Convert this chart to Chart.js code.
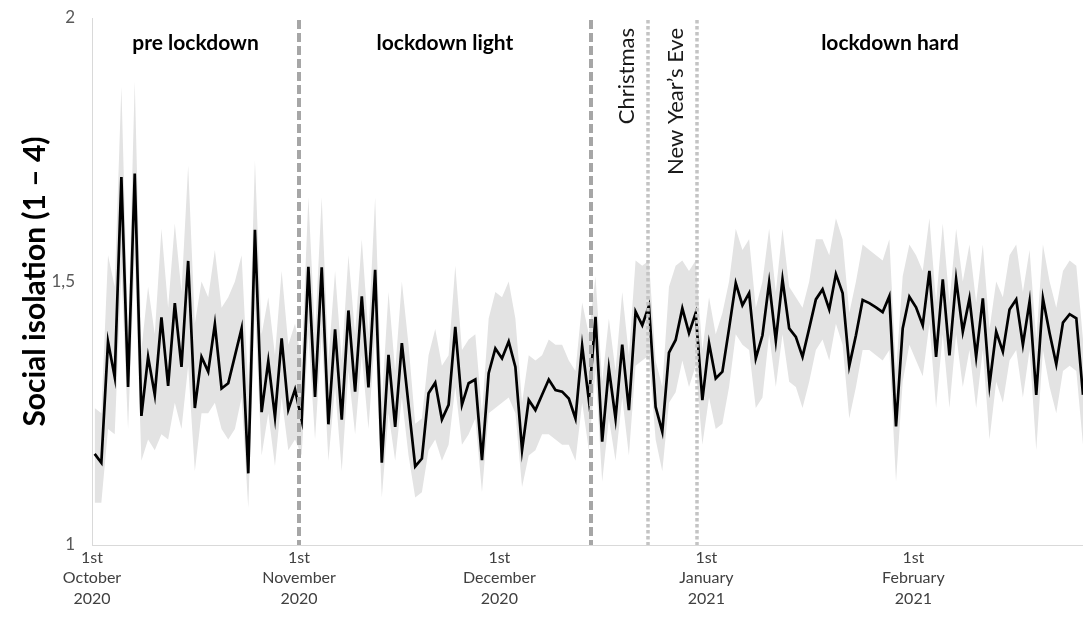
<!DOCTYPE html>
<html>
<head>
<meta charset="utf-8">
<script src="https://cdn.jsdelivr.net/npm/chart.js@4.4.0/dist/chart.umd.min.js"></script>
<style>
  html, body { margin: 0; padding: 0; background: #fff; }
  #wrap { width: 1083px; height: 617px; }
</style>
</head>
<body>
<div id="wrap"><canvas id="chart" width="1083" height="617"></canvas></div>
<script>
// daily mean of social isolation, 1 Oct 2020 .. 26 Feb 2021 (day index 0..148)
const isolation = [
  1.173, 1.156, 1.386, 1.319, 1.698, 1.300, 1.705, 1.245, 1.357, 1.285,
  1.432, 1.302, 1.459, 1.338, 1.539, 1.260, 1.357, 1.329, 1.419, 1.297,
  1.307, 1.359, 1.411, 1.136, 1.598, 1.252, 1.349, 1.243, 1.392, 1.257,
  1.295, 1.237, 1.528, 1.281, 1.527, 1.229, 1.409, 1.238, 1.445, 1.291,
  1.472, 1.299, 1.522, 1.156, 1.361, 1.224, 1.383, 1.266, 1.149, 1.164,
  1.288, 1.308, 1.238, 1.266, 1.414, 1.266, 1.307, 1.314, 1.161, 1.326,
  1.373, 1.354, 1.386, 1.338, 1.180, 1.275, 1.256, 1.285, 1.314, 1.294,
  1.291, 1.278, 1.240, 1.378, 1.275, 1.433, 1.196, 1.335, 1.240, 1.380,
  1.256, 1.443, 1.417, 1.454, 1.262, 1.215, 1.365, 1.389, 1.449, 1.402,
  1.440, 1.275, 1.383, 1.316, 1.329, 1.411, 1.497, 1.455, 1.478, 1.354,
  1.398, 1.498, 1.388, 1.504, 1.411, 1.395, 1.357, 1.411, 1.466, 1.485,
  1.447, 1.514, 1.478, 1.340, 1.398, 1.465, 1.459, 1.451, 1.442, 1.472,
  1.225, 1.411, 1.471, 1.451, 1.417, 1.520, 1.357, 1.504, 1.360, 1.504,
  1.405, 1.468, 1.357, 1.468, 1.304, 1.405, 1.367, 1.447, 1.466, 1.380,
  1.462, 1.285, 1.468, 1.402, 1.343, 1.422, 1.438, 1.430, 1.285
];

// upper / lower edge of the grey confidence band
const ciUpper = [
  1.26, 1.25, 1.55, 1.49, 1.87, 1.40, 1.88, 1.37, 1.49, 1.40,
  1.60, 1.45, 1.61, 1.48, 1.72, 1.42, 1.50, 1.47, 1.56, 1.45,
  1.47, 1.50, 1.55, 1.30, 1.73, 1.40, 1.47, 1.36, 1.52, 1.38,
  1.42, 1.35, 1.66, 1.40, 1.66, 1.35, 1.52, 1.35, 1.55, 1.40,
  1.58, 1.40, 1.66, 1.27, 1.48, 1.33, 1.50, 1.38, 1.23, 1.24,
  1.36, 1.41, 1.34, 1.36, 1.53, 1.37, 1.39, 1.40, 1.25, 1.43,
  1.48, 1.47, 1.50, 1.43, 1.27, 1.36, 1.35, 1.36, 1.39, 1.38,
  1.38, 1.35, 1.33, 1.46, 1.40, 1.51, 1.31, 1.43, 1.33, 1.48,
  1.36, 1.54, 1.53, 1.54, 1.35, 1.30, 1.49, 1.53, 1.54, 1.52,
  1.54, 1.37, 1.47, 1.40, 1.44, 1.50, 1.60, 1.56, 1.58, 1.45,
  1.50, 1.60, 1.48, 1.60, 1.49, 1.47, 1.45, 1.50, 1.58, 1.58,
  1.55, 1.62, 1.58, 1.44, 1.50, 1.57, 1.56, 1.55, 1.54, 1.58,
  1.33, 1.51, 1.57, 1.55, 1.52, 1.62, 1.46, 1.61, 1.46, 1.60,
  1.50, 1.57, 1.46, 1.57, 1.41, 1.50, 1.47, 1.55, 1.57, 1.48,
  1.56, 1.39, 1.57, 1.50, 1.45, 1.52, 1.54, 1.53, 1.39
];
const ciLower = [
  1.08, 1.08, 1.22, 1.21, 1.52, 1.22, 1.55, 1.16, 1.20, 1.18,
  1.21, 1.20, 1.27, 1.22, 1.34, 1.14, 1.25, 1.25, 1.27, 1.22,
  1.20, 1.22, 1.28, 1.07, 1.45, 1.17, 1.25, 1.15, 1.28, 1.18,
  1.20, 1.17, 1.40, 1.20, 1.40, 1.16, 1.30, 1.14, 1.33, 1.21,
  1.36, 1.22, 1.40, 1.09, 1.25, 1.16, 1.28, 1.17, 1.09, 1.10,
  1.18, 1.20, 1.16, 1.19, 1.30, 1.19, 1.21, 1.24, 1.10, 1.25,
  1.26, 1.27, 1.28, 1.25, 1.11, 1.17, 1.18, 1.21, 1.21, 1.20,
  1.19, 1.19, 1.16, 1.27, 1.18, 1.33, 1.12, 1.24, 1.16, 1.28,
  1.17, 1.34, 1.35, 1.36, 1.20, 1.14, 1.27, 1.29, 1.35, 1.30,
  1.34, 1.19, 1.28, 1.22, 1.23, 1.30, 1.40, 1.38, 1.37, 1.26,
  1.28, 1.40, 1.30, 1.40, 1.31, 1.30, 1.26, 1.31, 1.37, 1.39,
  1.35, 1.42, 1.38, 1.24, 1.30, 1.37, 1.37, 1.36, 1.35, 1.37,
  1.12, 1.31, 1.38, 1.35, 1.32, 1.42, 1.26, 1.40, 1.26, 1.40,
  1.30, 1.37, 1.26, 1.37, 1.20, 1.31, 1.27, 1.35, 1.37, 1.28,
  1.37, 1.18, 1.37, 1.30, 1.25, 1.33, 1.34, 1.33, 1.19
];

// x ticks sit on the month boundaries (day index - 0.4)
const monthTicks = [-0.4, 30.6, 60.6, 91.6, 122.6];
const monthLabels = [
  ['1st', 'October', '2020'],
  ['1st', 'November', '2020'],
  ['1st', 'December', '2020'],
  ['1st', 'January', '2021'],
  ['1st', 'February', '2021'],
];
const yTicks = [1, 1.5, 2];

// phase boundaries (day index) and the phase names between them
const phaseBounds = [-0.4, 30.6, 74.3, 90.2, 148];
const phaseNames = ['pre lockdown', 'lockdown light', null, 'lockdown hard'];
// holidays (dotted lines + rotated labels)
const holidayDays = [82.9, 90.2];
const holidayNames = ['Christmas', 'New Year\u2019s Eve'];

const FONT = 'Lato, "Open Sans", sans-serif';

const toPoints = arr => arr.map((v, i) => ({ x: i, y: v }));

const markers = {
  id: 'markers',
  afterDatasetsDraw(chart) {
    const { ctx, chartArea: a, scales: { x } } = chart;
    ctx.save();

    // dashed phase lines
    ctx.strokeStyle = '#a6a6a6';
    ctx.lineWidth = 4;
    ctx.setLineDash([9, 4]);
    [phaseBounds[1], phaseBounds[2]].forEach(d => {
      const px = Math.round(x.getPixelForValue(d));
      ctx.beginPath();
      ctx.moveTo(px, a.top + 2);
      ctx.lineTo(px, a.bottom);
      ctx.stroke();
    });

    // dotted holiday lines
    ctx.strokeStyle = '#c4c4c4';
    ctx.lineWidth = 3.5;
    ctx.setLineDash([3.5, 2.5]);
    holidayDays.forEach(d => {
      const px = Math.round(x.getPixelForValue(d));
      ctx.beginPath();
      ctx.moveTo(px, a.top + 2);
      ctx.lineTo(px, a.bottom);
      ctx.stroke();
    });
    ctx.setLineDash([]);

    // phase titles
    ctx.fillStyle = '#000';
    ctx.font = 'bold 21px ' + FONT;
    ctx.textAlign = 'center';
    ctx.textBaseline = 'middle';
    phaseNames.forEach((name, i) => {
      if (!name) return;
      const cx = (x.getPixelForValue(phaseBounds[i]) + x.getPixelForValue(phaseBounds[i + 1])) / 2;
      ctx.fillText(name, cx, 43);
    });

    // rotated holiday labels, left of their line
    ctx.font = '22px ' + FONT;
    ctx.fillStyle = '#1a1a1a';
    holidayNames.forEach((name, i) => {
      const px = x.getPixelForValue(holidayDays[i]);
      ctx.save();
      ctx.translate(px - 21, 28);
      ctx.rotate(-Math.PI / 2);
      ctx.textAlign = 'right';
      ctx.textBaseline = 'middle';
      ctx.fillText(name, 0, 0);
      ctx.restore();
    });

    ctx.restore();
  }
};

new Chart(document.getElementById('chart'), {
  type: 'line',
  data: {
    datasets: [
      { label: 'lower', data: toPoints(ciLower), borderWidth: 0, pointRadius: 0, fill: false, order: 2 },
      { label: 'upper', data: toPoints(ciUpper), borderWidth: 0, pointRadius: 0, fill: '-1', backgroundColor: '#e3e3e3', order: 1 },
      { label: 'Social isolation', data: toPoints(isolation), borderColor: '#000', borderWidth: 2.7, pointRadius: 0, fill: false, tension: 0, order: 0 },
    ],
  },
  options: {
    responsive: false,
    animation: false,
    events: [],
    layout: { padding: { top: 18, right: 0, left: 0, bottom: 0 } },
    plugins: { legend: { display: false }, tooltip: { enabled: false } },
    scales: {
      x: {
        type: 'linear',
        min: -0.4,
        max: 148,
        grid: { display: false },
        border: { display: true, color: '#d9d9d9', width: 1 },
        afterBuildTicks: axis => { axis.ticks = monthTicks.map(v => ({ value: v })); },
        afterFit: scale => { scale.height = 72; },
        ticks: {
          autoSkip: false,
          maxRotation: 0,
          padding: -6,
          color: '#404040',
          font: { family: FONT, size: 16, lineHeight: 1.3 },
          callback: (v, i) => monthLabels[i],
        },
      },
      y: {
        min: 1,
        max: 2,
        grid: { display: false },
        border: { display: true, color: '#d9d9d9', width: 1 },
        afterBuildTicks: axis => { axis.ticks = yTicks.map(v => ({ value: v })); },
        afterFit: scale => { scale.width = 92; },
        ticks: {
          padding: 9,
          color: '#595959',
          font: { family: FONT, size: 17, lineHeight: 1 },
          callback: v => String(v).replace('.', ','),
        },
        title: {
          display: true,
          text: 'Social isolation (1 \u2013 4)',
          color: '#000',
          font: { family: FONT, size: 30, weight: 'bold' },
          padding: { top: 17, bottom: 0 },
        },
      },
    },
  },
  plugins: [markers],
});
</script>
</body>
</html>
